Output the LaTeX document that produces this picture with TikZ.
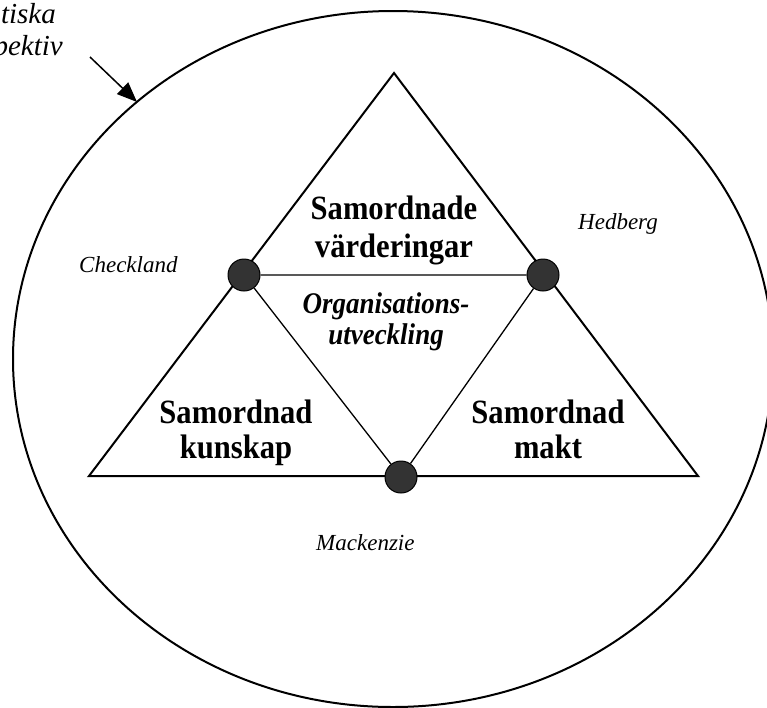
\documentclass[tikz,border=0pt]{standalone}
\usepackage{fontspec}
\setmainfont{Liberation Serif}
\newfontfamily\tallserif[FakeStretch=0.9]{Liberation Serif}
\usetikzlibrary{arrows.meta}
\begin{document}
\begin{tikzpicture}[x=1pt,y=-1pt,
  frame/.style={line width=2pt},
  outline/.style={line width=2pt, line join=miter},
  innerline/.style={line width=1.3pt},
  joint/.style={circle, draw, fill=black!80, line width=1pt, minimum size=32pt, inner sep=0pt},
  heading/.style={font=\tallserif\fontsize{34}{38}\selectfont\bfseries, align=center, inner sep=0pt, anchor=north},
  centretext/.style={font=\tallserif\fontsize{30}{31}\selectfont\bfseries\itshape, align=center, inner sep=0pt, anchor=north},
  author/.style={font=\fontsize{23}{26}\selectfont\itshape, inner sep=0pt, anchor=base west},
  perspective/.style={font=\fontsize{29}{33}\selectfont\itshape, inner sep=0pt, anchor=base east},
]
\useasboundingbox (0,0) rectangle (767,707);

% surrounding perspective
\draw[frame] (393,359) ellipse [x radius=380, y radius=348];

% outer triangle
\coordinate (apex) at (394,73);
\coordinate (bl) at (89,476);
\coordinate (br) at (698,476);
\draw[outline] (apex) -- (br) -- (bl) -- cycle;

% joints between the three fields
\node[joint] (jl) at (244,275) {};
\node[joint] (jr) at (543,275) {};
\node[joint] (jb) at (401,477) {};
\draw[innerline] (jl) -- (jr) -- (jb) -- (jl);

% field texts
\node[heading] (values) at (394,196) {Samordnade\\värderingar};
\node[heading, font=\tallserif\fontsize{34}{35}\selectfont\bfseries] (knowledge) at (236,400) {Samordnad\\kunskap};
\node[heading, font=\tallserif\fontsize{34}{35}\selectfont\bfseries] (power) at (548,400) {Samordnad\\makt};
\node[centretext] (orgdev) at (386,292) {Organisations-\\utveckling};

% authors at the joints
\node[author] (checkland) at (79,272) {Checkland};
\node[author] (hedberg) at (578,229) {Hedberg};
\node[author] (mackenzie) at (316,550) {Mackenzie};

% perspective label with arrow to the ellipse
\node[perspective] (persp1) at (56,23) {tiska};
\node[perspective] (persp2) at (63,55) {pektiv};
\coordinate (tail) at (90,57);
\coordinate (tip) at (137,102);
\draw[line width=1.5pt, -{Triangle[length=20pt,width=16pt]}] (tail) -- (tip);
\end{tikzpicture}
\end{document}
